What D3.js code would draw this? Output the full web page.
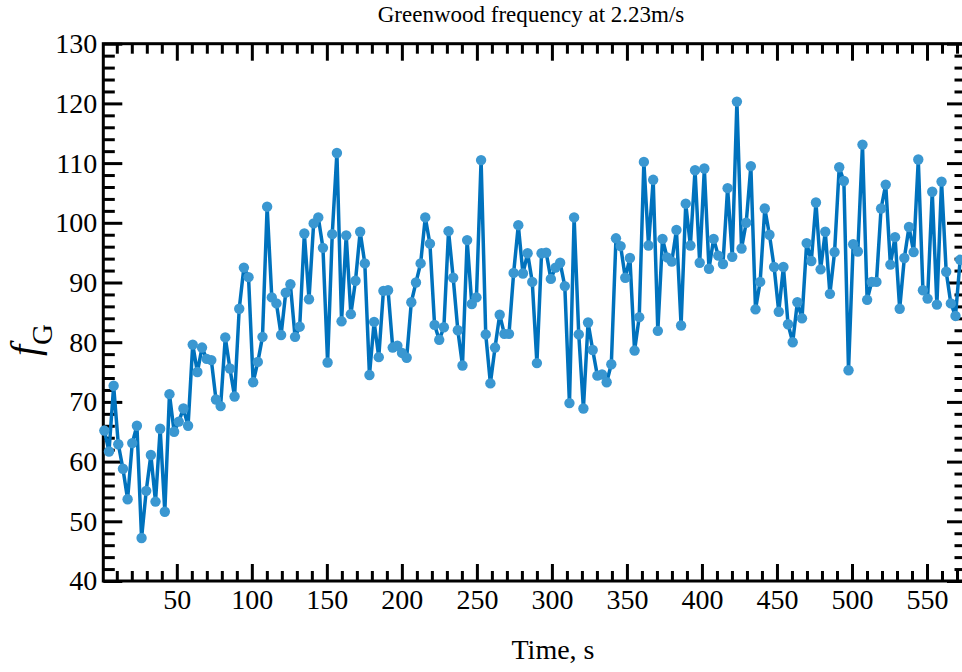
<!DOCTYPE html>
<html>
<head>
<meta charset="utf-8">
<script src="https://cdn.jsdelivr.net/npm/d3@7"></script>
<style>
  html, body { margin: 0; padding: 0; background: #fff; }
  svg { display: block; }
  text { font-family: "Liberation Serif", "Times New Roman", serif; }
</style>
</head>
<body>
<svg id="chart" width="962" height="672"></svg>
<script>
// ---------------- data ----------------
const chartTitle = "Greenwood frequency at 2.23m/s";
const xLabel = "Time, s";

const timeValues = [
  1.7, 4.8, 7.9, 11.0, 14.1, 17.2, 20.3, 23.4, 26.5, 29.6,
  32.7, 35.8, 38.9, 42.0, 45.1, 48.2, 51.3, 54.4, 57.5, 60.6,
  63.7, 66.8, 69.9, 73.0, 76.1, 79.2, 82.3, 85.4, 88.5, 91.6,
  94.7, 97.8, 100.9, 104.0, 107.1, 110.2, 113.3, 116.4, 119.5, 122.6,
  125.7, 128.8, 131.9, 135.0, 138.1, 141.2, 144.3, 147.4, 150.5, 153.6,
  156.7, 159.8, 162.9, 166.0, 169.1, 172.2, 175.3, 178.4, 181.5, 184.6,
  187.7, 190.8, 193.9, 197.0, 200.1, 203.2, 206.3, 209.4, 212.5, 215.6,
  218.7, 221.8, 224.9, 228.0, 231.1, 234.2, 237.3, 240.4, 243.5, 246.6,
  249.7, 252.8, 255.9, 259.0, 262.1, 265.2, 268.3, 271.4, 274.5, 277.6,
  280.7, 283.8, 286.9, 290.0, 293.1, 296.2, 299.3, 302.4, 305.5, 308.6,
  311.7, 314.8, 317.9, 321.0, 324.1, 327.2, 330.3, 333.4, 336.5, 339.6,
  342.7, 345.8, 348.9, 352.0, 355.1, 358.2, 361.3, 364.4, 367.5, 370.6,
  373.7, 376.8, 379.9, 383.0, 386.1, 389.2, 392.3, 395.4, 398.5, 401.6,
  404.7, 407.8, 410.9, 414.0, 417.1, 420.2, 423.3, 426.4, 429.5, 432.6,
  435.7, 438.8, 441.9, 445.0, 448.1, 451.2, 454.3, 457.4, 460.5, 463.6,
  466.7, 469.8, 472.9, 476.0, 479.1, 482.2, 485.3, 488.4, 491.5, 494.6,
  497.7, 500.8, 503.9, 507.0, 510.1, 513.2, 516.3, 519.4, 522.5, 525.6,
  528.7, 531.8, 534.9, 538.0, 541.1, 544.2, 547.3, 550.4, 553.5, 556.6,
  559.7, 562.8, 565.9, 569.0, 572.1
];

const greenwoodFreq = [
  65.2, 61.7, 72.7, 62.9, 58.8, 53.7, 63.1, 66.0, 47.2, 55.1,
  61.1, 53.3, 65.5, 51.6, 71.3, 65.0, 66.7, 68.9, 66.0, 79.6,
  75.0, 79.1, 77.2, 77.0, 70.4, 69.3, 80.8, 75.6, 70.9, 85.6,
  92.5, 90.9, 73.3, 76.7, 80.9, 102.7, 87.5, 86.5, 81.2, 88.3,
  89.7, 80.9, 82.6, 98.2, 87.2, 99.9, 100.9, 95.8, 76.6, 98.1,
  111.7, 83.5, 97.9, 84.7, 90.3, 98.5, 93.2, 74.5, 83.4, 77.5,
  88.6, 88.7, 79.1, 79.4, 78.2, 77.4, 86.7, 90.0, 93.2, 100.9,
  96.5, 82.9, 80.4, 82.5, 98.6, 90.8, 82.0, 76.1, 97.1, 86.4,
  87.5, 110.5, 81.3, 73.1, 79.1, 84.6, 81.4, 81.4, 91.6, 99.6,
  91.5, 94.9, 90.1, 76.5, 94.9, 95.0, 90.6, 92.5, 93.3, 89.4,
  69.8, 100.9, 81.3, 68.9, 83.3, 78.7, 74.4, 74.6, 73.3, 76.3,
  97.4, 96.1, 90.8, 94.1, 78.6, 84.2, 110.2, 96.2, 107.2, 81.9,
  97.3, 94.2, 93.5, 98.8, 82.8, 103.2, 96.2, 108.8, 93.3, 109.1,
  92.3, 97.3, 94.5, 93.1, 105.8, 94.3, 120.3, 95.7, 100.0, 109.5,
  85.5, 90.1, 102.4, 98.0, 92.6, 85.1, 92.6, 83.0, 80.0, 86.7,
  84.0, 96.6, 93.6, 103.4, 92.2, 98.5, 88.1, 95.1, 109.3, 107.0,
  75.3, 96.4, 95.2, 113.1, 87.1, 90.1, 90.1, 102.4, 106.4, 93.0,
  97.6, 85.6, 94.1, 99.3, 95.1, 110.6, 88.7, 87.3, 105.2, 86.3,
  106.9, 91.8, 86.5, 84.4, 93.8
];

const xDomain = [1, 576];
const yDomain = [40, 130];
const xMajorTicks = [50, 100, 150, 200, 250, 300, 350, 400, 450, 500, 550];
const xMinorTicks = [10, 20, 30, 40, 60, 70, 80, 90, 110, 120, 130, 140, 160, 170, 180, 190,
  210, 220, 230, 240, 260, 270, 280, 290, 310, 320, 330, 340, 360, 370, 380, 390,
  410, 420, 430, 440, 460, 470, 480, 490, 510, 520, 530, 540, 560, 570];
const yMajorTicks = [40, 50, 60, 70, 80, 90, 100, 110, 120, 130];
const yMinorTicks = [42, 44, 46, 48, 52, 54, 56, 58, 62, 64, 66, 68, 72, 74, 76, 78,
  82, 84, 86, 88, 92, 94, 96, 98, 102, 104, 106, 108, 112, 114, 116, 118,
  122, 124, 126, 128];

// ---------------- layout ----------------
const plotLeft = 103.3, plotRight = 966, plotTop = 43.7, plotBottom = 581;
const lineColor = "#0072BD";
const markerColor = "#3A97D1";
const serif = "Liberation Serif, Times New Roman, serif";

const svg = d3.select("#chart");
const x = d3.scaleLinear().domain(xDomain).range([plotLeft, plotRight]);
const y = d3.scaleLinear().domain(yDomain).range([plotBottom, plotTop]);

const data = timeValues.map((t, i) => ({ t, v: greenwoodFreq[i] }));

svg.append("defs").append("clipPath").attr("id", "plotclip")
  .append("rect").attr("x", plotLeft).attr("y", plotTop)
  .attr("width", plotRight - plotLeft).attr("height", plotBottom - plotTop);

// ---------------- axes ----------------
function styleAxis(g, labels) {
  g.attr("font-family", serif).attr("font-size", 28);
  g.select(".domain").remove();
  g.selectAll(".tick line").attr("stroke", "#000").attr("stroke-width", 3);
  if (labels) {
    g.selectAll(".tick text").attr("fill", "#000");
  } else {
    g.selectAll(".tick text").remove();
  }
}

const xMajLen = 17, xMinLen = 10, yMajLen = 19, yMinLen = 11.5;

svg.append("g").attr("transform", `translate(0,${plotBottom})`)
  .call(d3.axisBottom(x).tickValues(xMajorTicks).tickSize(-xMajLen).tickPadding(8).tickFormat(d3.format("d")))
  .call(g => styleAxis(g, true));
svg.append("g").attr("transform", `translate(0,${plotBottom})`)
  .call(d3.axisBottom(x).tickValues(xMinorTicks).tickSize(-xMinLen).tickFormat(""))
  .call(g => styleAxis(g, false));
svg.append("g").attr("transform", `translate(0,${plotTop})`)
  .call(d3.axisTop(x).tickValues(xMajorTicks).tickSize(-xMajLen).tickFormat(""))
  .call(g => styleAxis(g, false));
svg.append("g").attr("transform", `translate(0,${plotTop})`)
  .call(d3.axisTop(x).tickValues(xMinorTicks).tickSize(-xMinLen).tickFormat(""))
  .call(g => styleAxis(g, false));

svg.append("g").attr("transform", `translate(${plotLeft},0)`)
  .call(d3.axisLeft(y).tickValues(yMajorTicks).tickSize(-yMajLen).tickPadding(6).tickFormat(d3.format("d")))
  .call(g => styleAxis(g, true));
svg.append("g").attr("transform", `translate(${plotLeft},0)`)
  .call(d3.axisLeft(y).tickValues(yMinorTicks).tickSize(-yMinLen).tickFormat(""))
  .call(g => styleAxis(g, false));
svg.append("g").attr("transform", `translate(${plotRight},0)`)
  .call(d3.axisRight(y).tickValues(yMajorTicks).tickSize(-yMajLen).tickFormat(""))
  .call(g => styleAxis(g, false));
svg.append("g").attr("transform", `translate(${plotRight},0)`)
  .call(d3.axisRight(y).tickValues(yMinorTicks).tickSize(-yMinLen).tickFormat(""))
  .call(g => styleAxis(g, false));

svg.append("rect")
  .attr("x", plotLeft).attr("y", plotTop)
  .attr("width", plotRight - plotLeft).attr("height", plotBottom - plotTop)
  .attr("fill", "none").attr("stroke", "#000").attr("stroke-width", 3);

// ---------------- series ----------------
svg.append("path")
  .datum(data)
  .attr("clip-path", "url(#plotclip)")
  .attr("fill", "none")
  .attr("stroke", lineColor)
  .attr("stroke-width", 3.5)
  .attr("stroke-linejoin", "round")
  .attr("d", d3.line().x(d => x(d.t)).y(d => y(d.v)));

svg.append("g").selectAll("circle.pt")
  .data(data)
  .join("circle")
  .attr("class", "pt")
  .attr("cx", d => x(d.t))
  .attr("cy", d => y(d.v))
  .attr("r", 5.2)
  .attr("fill", markerColor);

// ---------------- texts ----------------
svg.append("text")
  .attr("x", 531).attr("y", 22)
  .attr("text-anchor", "middle")
  .attr("font-family", serif).attr("font-size", 23)
  .attr("fill", "#000")
  .text(chartTitle);

svg.append("text")
  .attr("x", 553).attr("y", 659)
  .attr("text-anchor", "middle")
  .attr("font-family", serif).attr("font-size", 28)
  .attr("fill", "#000")
  .text(xLabel);

const yl = svg.append("text")
  .attr("transform", "translate(38,340) rotate(-90)")
  .attr("text-anchor", "middle")
  .attr("font-family", serif)
  .attr("fill", "#000");
yl.append("tspan").attr("font-style", "italic").attr("font-size", 40).text("f");
yl.append("tspan").attr("font-size", 29).attr("dy", 14).text("G");
</script>
</body>
</html>
